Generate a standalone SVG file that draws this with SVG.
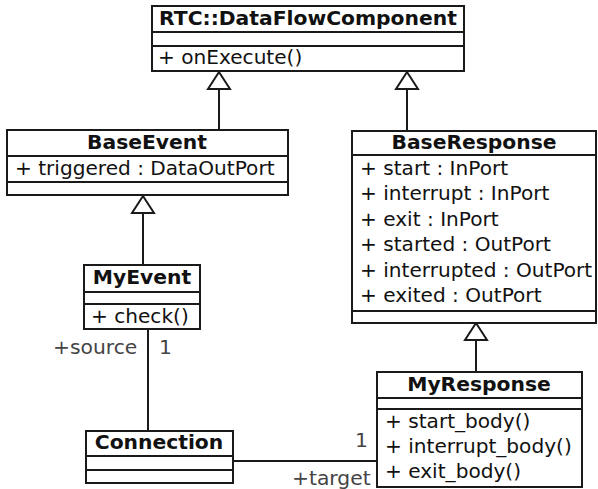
<svg xmlns="http://www.w3.org/2000/svg" width="598" height="489" viewBox="0 0 598 489">
<style>
.box{fill:#fff;stroke:#1a1a1a;stroke-width:2}
.sep{stroke:#1a1a1a;stroke-width:2}
.t{font-family:"DejaVu Sans",sans-serif;font-size:20.1px;fill:#111}
.b{font-weight:bold;text-anchor:middle;font-size:20.3px}
.lbl{font-family:"DejaVu Sans",sans-serif;font-size:20.3px;fill:#444}
.edge{stroke:#1a1a1a;stroke-width:2;fill:none}
.tri{fill:#fff;stroke:#1a1a1a;stroke-width:2}
</style>
<rect width="598" height="489" fill="#fff"/>
<g id="edges">
<line class="edge" x1="219" y1="89" x2="219" y2="130"/>
<polygon class="tri" points="219,72 208,89 230,89"/>
<line class="edge" x1="407" y1="89" x2="407" y2="131"/>
<polygon class="tri" points="407,72 396,89 418,89"/>
<line class="edge" x1="143" y1="213" x2="143" y2="265"/>
<polygon class="tri" points="143,196 132,213 154,213"/>
<line class="edge" x1="476" y1="340" x2="476" y2="372"/>
<polygon class="tri" points="476,323 465,340 487,340"/>
<line class="edge" x1="148" y1="329" x2="148" y2="431"/>
<line class="edge" x1="233" y1="461" x2="377" y2="461"/>
<text class="lbl" x="53" y="354">+source</text>
<text class="lbl" x="159" y="354">1</text>
<text class="lbl" x="292" y="485">+target</text>
<text class="lbl" x="355" y="447">1</text>
</g>
<g id="DataFlowComponent">
<rect class="box" x="152" y="6" width="312" height="65"/>
<line class="sep" x1="152" y1="32" x2="464" y2="32"/>
<line class="sep" x1="152" y1="46" x2="464" y2="46"/>
<text class="t b" x="308" y="25">RTC::DataFlowComponent</text>
<text class="t" x="158" y="64">+ onExecute()</text>
</g>
<g id="BaseEvent">
<rect class="box" x="7" y="130" width="281" height="65"/>
<line class="sep" x1="7" y1="156" x2="288" y2="156"/>
<line class="sep" x1="7" y1="182" x2="288" y2="182"/>
<text class="t b" x="147" y="149">BaseEvent</text>
<text class="t" x="15" y="175">+ triggered : DataOutPort</text>
</g>
<g id="BaseResponse">
<rect class="box" x="352" y="131" width="244" height="192"/>
<line class="sep" x1="352" y1="155" x2="596" y2="155"/>
<line class="sep" x1="352" y1="311" x2="596" y2="311"/>
<text class="t b" x="474" y="149">BaseResponse</text>
<text class="t" x="360" y="175">+ start : InPort</text>
<text class="t" x="360" y="200">+ interrupt : InPort</text>
<text class="t" x="360" y="226">+ exit : InPort</text>
<text class="t" x="360" y="251">+ started : OutPort</text>
<text class="t" x="360" y="277">+ interrupted : OutPort</text>
<text class="t" x="360" y="302">+ exited : OutPort</text>
</g>
<g id="MyEvent">
<rect class="box" x="84" y="265" width="116" height="64"/>
<line class="sep" x1="84" y1="292" x2="200" y2="292"/>
<line class="sep" x1="84" y1="304" x2="200" y2="304"/>
<text class="t b" x="142" y="284">MyEvent</text>
<text class="t" x="91" y="323">+ check()</text>
</g>
<g id="Connection">
<rect class="box" x="86" y="431" width="147" height="52"/>
<line class="sep" x1="86" y1="456" x2="233" y2="456"/>
<line class="sep" x1="86" y1="470" x2="233" y2="470"/>
<text class="t b" x="159" y="449">Connection</text>
</g>
<g id="MyResponse">
<rect class="box" x="377" y="372" width="205" height="115"/>
<line class="sep" x1="377" y1="398" x2="582" y2="398"/>
<line class="sep" x1="377" y1="409" x2="582" y2="409"/>
<text class="t b" x="479" y="391">MyResponse</text>
<text class="t" x="385" y="428">+ start_body()</text>
<text class="t" x="385" y="453">+ interrupt_body()</text>
<text class="t" x="385" y="478">+ exit_body()</text>
</g>
</svg>
